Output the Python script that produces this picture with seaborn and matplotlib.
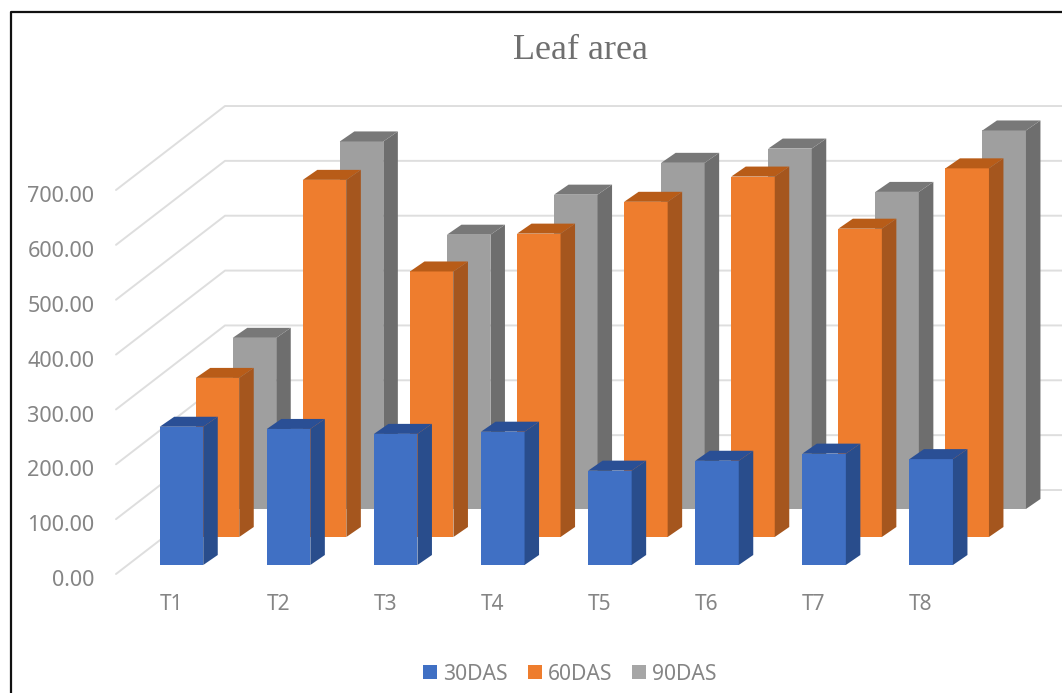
import matplotlib
matplotlib.use("Agg")
import matplotlib.pyplot as plt
from matplotlib.lines import Line2D
from matplotlib.patches import Patch, Polygon
from matplotlib.transforms import ScaledTranslation
import seaborn as sns

treatments = ["T1", "T2", "T3", "T4", "T5", "T6", "T7", "T8"]
das30 = [252, 248, 239, 243, 172, 190, 203, 193]
das60 = [290, 651, 484, 553, 611, 657, 562, 672]
das90 = [312, 670, 500, 573, 631, 657, 578, 690]
y_ticks = [0, 100, 200, 300, 400, 500, 600, 700]
series_names = ["30DAS", "60DAS", "90DAS"]

W, H = 1062, 693
PX_PER_UNIT = 0.5486
PITCH = 107.1

sns.set_theme(style="white")
plt.rcParams["font.family"] = ["Noto Sans", "DejaVu Sans"]
TXT = "#858585"
GRID = "#dedede"

fig = plt.figure(figsize=(W / 100, H / 100), dpi=100, facecolor="white")


def full_axes(zorder):
    ax = fig.add_axes([0, 0, 1, 1], zorder=zorder)
    ax.patch.set_alpha(0)
    ax.set_axis_off()
    return ax


# wall: category axes with the labelled front edge of the chart
left, right, front0, top700 = 116, W, 574, 190
wall = fig.add_axes([left / W, 1 - front0 / H, (right - left) / W, (front0 - top700) / H], zorder=0)
wall.patch.set_alpha(0)
sns.despine(ax=wall, left=True, bottom=True, top=True, right=True)
x_first_label = 171
wall.set_xlim((left - x_first_label) / PITCH, (right - x_first_label) / PITCH)
wall.set_ylim(0, 700)
wall.set_xticks(range(len(treatments)), treatments)
wall.set_yticks(y_ticks, [f"{v:.2f}" for v in y_ticks])
wall.tick_params(axis="y", length=0, pad=15.5, labelsize=15.6, labelcolor=TXT)
wall.tick_params(axis="x", length=0, pad=14.5, labelsize=15, labelcolor=TXT)
wall.grid(False)
drop = ScaledTranslation(0, -3 / 72, fig.dpi_scale_trans)
for lab in wall.get_yticklabels():
    lab.set_transform(lab.get_transform() + drop)
wall_dx = 109 / PITCH
wall_dy = 84 / PX_PER_UNIT
x_l, x_r = wall.get_xlim()
for v in y_ticks:
    wall.plot([x_l, x_l + wall_dx, x_r], [v, v + wall_dy, v + wall_dy],
              color=GRID, lw=1.4, clip_on=False, zorder=1)


def draw_series(values, face, side, top, shift_x, base_px, zorder):
    ax = full_axes(zorder)
    sns.barplot(x=treatments, y=values, order=treatments, color=face, saturation=1,
                width=43.5 / PITCH, ax=ax, linewidth=0)
    x0 = 181.5 + shift_x
    ax.set_xlim((0 - x0) / PITCH, (W - x0) / PITCH)
    ax.set_ylim((base_px - H) / PX_PER_UNIT, base_px / PX_PER_UNIT)
    dx = 14.5 / PITCH
    dy = 10 / PX_PER_UNIT
    for bar in list(ax.patches):
        xa = bar.get_x()
        xb = xa + bar.get_width()
        h = bar.get_height()
        ax.add_patch(Polygon([(xb, 0), (xb + dx, dy), (xb + dx, h + dy), (xb, h)],
                             closed=True, facecolor=side, edgecolor="none"))
        ax.add_patch(Polygon([(xa, h), (xa + dx, h + dy), (xb + dx, h + dy), (xb, h)],
                             closed=True, facecolor=top, edgecolor="none"))
    ax.set_axis_off()
    return ax


draw_series(das90, "#9f9f9f", "#6e6e6e", "#787878", 73, 509, 1)
draw_series(das60, "#ee7d2e", "#a5561e", "#b85c18", 36, 537, 2)
draw_series(das30, "#4070c4", "#294d8c", "#2a4f95", 0, 565, 3)

fig.text(580 / W, 1 - 59 / H, "Leaf area", family="Liberation Serif", fontsize=26,
         color="#6f6f6f", ha="center", va="baseline")

handles = [Patch(facecolor=c, edgecolor="none") for c in ("#4070c4", "#ee7d2e", "#a6a6a6")]
fig.legend(handles, series_names, ncol=3, loc="center", bbox_to_anchor=(570 / W, 1 - 674 / H),
           frameon=False, fontsize=15.2, labelcolor=TXT, handlelength=0.66, handleheight=0.66,
           handletextpad=0.28, columnspacing=0.95)

fig.add_artist(Line2D([10.5 / W, 10.5 / W, 1], [0, 1 - 12 / H, 1 - 12 / H], color="#111111", lw=1.6))

fig.savefig("out.png", dpi=100)
